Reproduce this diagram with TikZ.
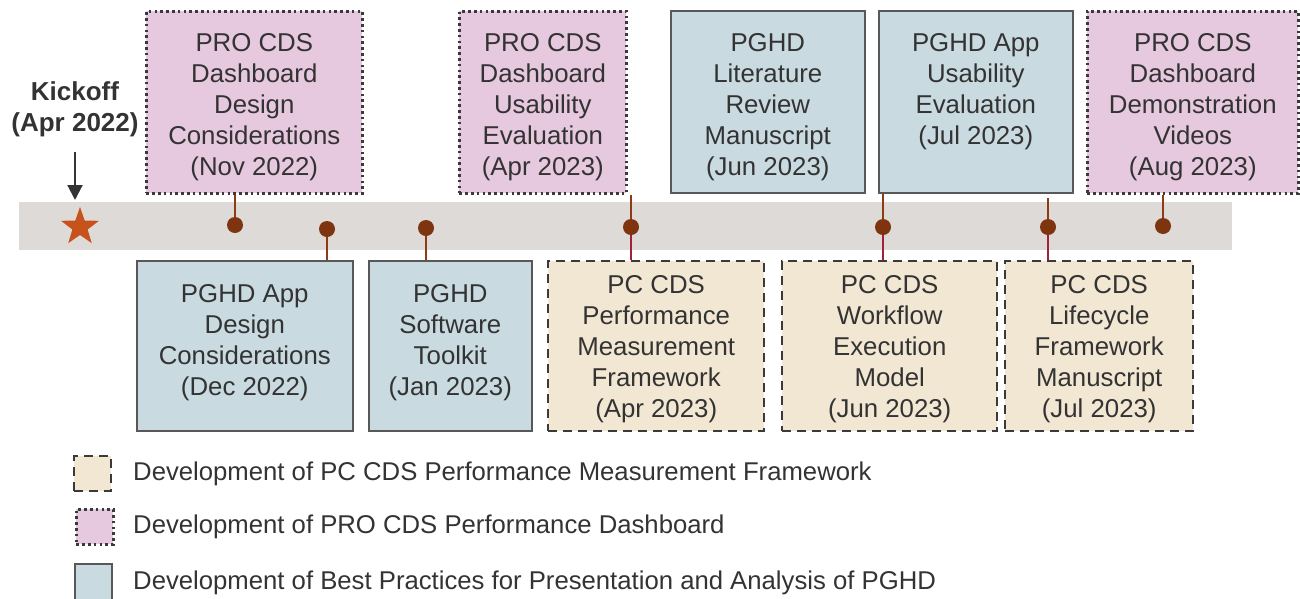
\documentclass[tikz,border=0pt]{standalone}
\usepackage{fontspec}
\setmainfont{Liberation Sans}
\usetikzlibrary{shapes.geometric,arrows.meta}
\definecolor{band}{HTML}{DEDAD8}
\definecolor{pinkfill}{HTML}{E6C8DF}
\definecolor{bluefill}{HTML}{C9DAE1}
\definecolor{beigefill}{HTML}{F2E7D3}
\definecolor{edge}{HTML}{3A3A3A}
\definecolor{ink}{HTML}{333333}
\definecolor{stembrown}{HTML}{8E3A12}
\definecolor{stemred}{HTML}{A2213A}
\definecolor{dotbrown}{HTML}{7F3410}
\definecolor{starorange}{HTML}{C8521B}
\tikzset{
  box/.style={rectangle, inner sep=0pt, anchor=north west},
  probox/.style={box, fill=pinkfill, draw=edge, line width=2.6pt, dash pattern=on 2.6pt off 3.2pt},
  pghdbox/.style={box, fill=bluefill, draw=edge!85, line width=1.6pt},
  pcbox/.style={box, fill=beigefill, draw=edge, line width=2.4pt, dash pattern=on 9pt off 6pt},
  label/.style={font=\fontsize{25.8}{31}\selectfont, text=ink, align=center, inner sep=0pt},
  legendtext/.style={font=\fontsize{25.7}{31}\selectfont, text=ink, anchor=west, inner sep=0pt},
  dot/.style={circle, fill=dotbrown, minimum size=16pt, inner sep=0pt},
  stemup/.style={draw=stembrown, line width=2.4pt},
  stemdown/.style={draw=stemred, line width=2.4pt},
}
\begin{document}
\begin{tikzpicture}[x=1pt,y=-1pt]
\useasboundingbox (0,0) rectangle (1300,598);

% timeline band
\fill[band] (19,202) rectangle (1232,250);

% milestones above the timeline
\node[probox, minimum width=216pt, minimum height=182pt] (t1) at (145,10) {};
\node[label] at ([yshift=-5pt]t1.center) {PRO CDS\\Dashboard\\Design\\Considerations\\(Nov 2022)};
\node[probox, minimum width=167pt, minimum height=182pt] (t2) at (458,10) {};
\node[label] at ([yshift=-5pt]t2.center) {PRO CDS\\Dashboard\\Usability\\Evaluation\\(Apr 2023)};
\node[pghdbox, minimum width=194pt, minimum height=182pt] (t3) at (670,10) {};
\node[label] at ([yshift=-5pt]t3.center) {PGHD\\Literature\\Review\\Manuscript\\(Jun 2023)};
\node[pghdbox, minimum width=194pt, minimum height=182pt] (t4) at (878,10) {};
\node[label, anchor=north] at ([yshift=-23pt]t4.north) {PGHD App\\Usability\\Evaluation\\(Jul 2023)};
\node[probox, minimum width=211pt, minimum height=182pt] (t5) at (1086,10) {};
\node[label] at ([yshift=-5pt]t5.center) {PRO CDS\\Dashboard\\Demonstration\\Videos\\(Aug 2023)};

% milestones below the timeline
\node[pghdbox, minimum width=216pt, minimum height=170pt] (b1) at (136,260) {};
\node[label] at ([yshift=3pt]b1.center) {PGHD App\\Design\\Considerations\\(Dec 2022)};
\node[pghdbox, minimum width=163pt, minimum height=170pt] (b2) at (368,260) {};
\node[label] at ([yshift=3pt]b2.center) {PGHD\\Software\\Toolkit\\(Jan 2023)};
\node[pcbox, minimum width=216pt, minimum height=170pt] (b3) at (547,260) {};
\node[label] at ([yshift=-3pt]b3.center) {PC CDS\\Performance\\Measurement\\Framework\\(Apr 2023)};
\node[pcbox, minimum width=215pt, minimum height=170pt] (b4) at (781,260) {};
\node[label] at ([yshift=-3pt]b4.center) {PC CDS\\Workflow\\Execution\\Model\\(Jun 2023)};
\node[pcbox, minimum width=188pt, minimum height=170pt] (b5) at (1004,260) {};
\node[label] at ([yshift=-3pt]b5.center) {PC CDS\\Lifecycle\\Framework\\Manuscript\\(Jul 2023)};

% milestone markers on the band
\coordinate (d1) at (235,225);
\coordinate (d2) at (327,229);
\coordinate (d3) at (426,228);
\coordinate (d4) at (631,227);
\coordinate (d5) at (883,227);
\coordinate (d6) at (1048,227);
\coordinate (d7) at (1163,226);

\draw[stemup] (d1) -- (d1 |- t1.south);
\draw[stemup] (d2) -- (d2 |- b1.north);
\draw[stemup] (d3) -- (d3 |- b2.north);
\draw[stemup] (d4) -- (d4 |- t2.south);
\draw[stemdown] (d4) -- (d4 |- b3.north);
\draw[stemup] (d5) -- (d5 |- t4.south);
\draw[stemdown] (d5) -- (d5 |- b4.north);
\draw[stemup] (d6) -- ([yshift=-4pt]d6 |- t4.south);
\draw[stemdown] (d6) -- (d6 |- b5.north);
\draw[stemup] (d7) -- (d7 |- t5.south);

\foreach \d in {d1,d2,d3,d4,d5,d6,d7}
  \node[dot] at (\d) {};

% kickoff
\node[star, star points=5, star point ratio=2.5, minimum size=40pt, inner sep=0pt, fill=starorange] (kstar) at (80,227) {};
\node[font=\bfseries\fontsize{26}{31}\selectfont, text=ink, align=center, inner sep=0pt] (kick) at (75,109) {Kickoff\\(Apr 2022)};
\coordinate (kend) at (75,200);
\draw[draw=ink, line width=2pt, -{Triangle[width=15pt,length=15pt]}] (kick.south -| kend) ++(0,15) -- (kend);

% legend
\node[pcbox, minimum width=37pt, minimum height=35pt] (lg1) at (73,455) {};
\node[legendtext] (lt1) at (133,474) {Development of PC CDS Performance Measurement Framework};
\node[probox, minimum width=37pt, minimum height=35pt] (lg2) at (75,508) {};
\node[legendtext] (lt2) at (133,527) {Development of PRO CDS Performance Dashboard};
\node[pghdbox, minimum width=37pt, minimum height=40pt] (lg3) at (74,563) {};
\node[legendtext] (lt3) at (133,583) {Development of Best Practices for Presentation and Analysis of PGHD};
\end{tikzpicture}
\end{document}
